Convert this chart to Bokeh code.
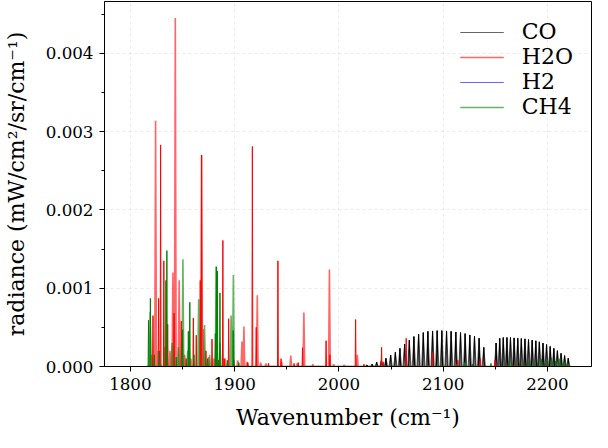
from bokeh.plotting import figure
from bokeh.models import Range1d, NumeralTickFormatter, FixedTicker, Legend, LegendItem
from bokeh.embed import file_html
from bokeh.resources import INLINE

# ---------------- data ----------------
# CO fundamental band (line positions in cm^-1, radiance in mW/cm2/sr/cm-1)
co_wn = [2026.8, 2031.8,
         2036.2, 2040.7, 2045.1, 2049.6, 2054.1, 2058.5, 2063.0, 2067.5, 2071.9, 2076.4,
         2080.9, 2085.3, 2089.8, 2094.2, 2098.7, 2103.2, 2107.6, 2112.1, 2116.6, 2121.0,
         2125.5, 2130.0, 2134.4, 2138.9,
         2150.7, 2154.2, 2157.6, 2161.1, 2164.5, 2168.0, 2171.5, 2174.9, 2178.4, 2181.8,
         2185.3, 2188.8, 2192.2, 2195.7, 2199.1, 2202.6, 2206.1, 2209.5, 2213.0, 2216.4,
         2219.9]
co_rad = [0.00002, 0.00003,
          0.000055, 0.000076, 0.000105, 0.000147, 0.000181, 0.000231, 0.000286, 0.000336,
          0.000382, 0.000412, 0.000433, 0.000449, 0.000454, 0.000458, 0.000458, 0.000454,
          0.000449, 0.000441, 0.000433, 0.000420, 0.000403, 0.000386, 0.000361, 0.000244,
          0.000300, 0.000361, 0.000370, 0.000370, 0.000370, 0.000365, 0.000361, 0.000357,
          0.000353, 0.000344, 0.000336, 0.000328, 0.000315, 0.000298, 0.000281, 0.000256,
          0.000231, 0.000202, 0.000168, 0.000139, 0.000105]

# H2O, broad (faded) spectrum
h2o_wn_a = [1820.5, 1824.2, 1826.0, 1833.0, 1838.0, 1840.8, 1843.1, 1846.8, 1852.0, 1858.0,
            1868.3, 1869.8, 1875.0, 1880.0, 1882.0, 1891.0, 1903.0, 1907.0, 1908.9, 1912.0,
            1921.7, 1925.0, 1930.0, 1945.0, 1953.8, 1960.0, 1966.4, 1975.0, 1990.9, 1995.0,
            2005.0, 2017.6]
h2o_rad_a = [0.00015, 0.00314, 0.0002, 0.00025, 0.0002, 0.0012, 0.00445, 0.0011, 0.00015, 0.0001,
             0.0027, 0.00048, 0.00012, 0.0001, 0.0001, 0.0001, 0.00008, 0.00032, 0.00051, 0.00006,
             0.00091, 0.00005, 0.00004, 0.00006, 0.00014, 0.00004, 0.00069, 0.00003, 0.00124, 0.00003,
             0.00002, 0.00015]
# H2O, sharp (solid) spectrum
h2o_wn_b = [1821.7, 1827.1, 1829.0, 1832.1, 1835.8, 1841.9, 1848.8, 1853.5, 1860.4, 1863.2,
            1867.0, 1868.3, 1872.5, 1878.3, 1884.5, 1888.7, 1890.0, 1894.3, 1899.3, 1912.6,
            1917.0, 1920.7, 1932.5, 1941.5, 1944.5, 1957.0, 1961.0, 1965.1, 1987.7, 1991.3,
            2016.0, 2024.0, 2040.9, 2042.5, 2064.5, 2089.6, 2114.0, 2135.6, 2149.7, 2171.0,
            2200.0]
h2o_rad_b = [0.00065, 0.00087, 0.00283, 0.00135, 0.00054, 0.00068, 0.00058, 0.0001, 0.00062, 0.0004,
             0.0011, 0.0027, 0.0002, 0.00035, 0.00008, 0.00161, 0.0001, 0.00061, 0.00008, 0.00005,
             0.00281, 0.0005, 0.00004, 0.00135, 0.0001, 0.00004, 0.00005, 0.00024, 0.00033, 0.00015,
             0.0006, 0.00003, 0.000245, 0.00006, 0.00036, 0.00018, 0.00008, 0.0001, 0.00008, 0.00004,
             0.00003]

# H2 (very weak)
h2_wn = [1830.0, 1900.0, 1980.0, 2050.0, 2120.0, 2200.0]
h2_rad = [0.00001, 0.00001, 0.000008, 0.00001, 0.00001, 0.000008]

# CH4, broad (faded) spectrum
ch4_wn_a = [1819.0, 1840.0, 1846.0, 1850.4, 1855.0, 1865.5, 1871.1, 1876.0, 1882.3, 1886.0,
            1896.6, 1898.8]
ch4_rad_a = [0.0007, 0.0003, 0.00025, 0.00137, 0.0002, 0.00086, 0.00053, 0.00015, 0.00128, 0.0003,
             0.00065, 0.00117]
# CH4, sharp (solid) spectrum
ch4_wn_b = [1817.4, 1819.2, 1823.0, 1828.0, 1834.1, 1835.0, 1844.0, 1850.1, 1855.6, 1857.0,
            1861.0, 1874.0, 1881.5, 1882.5, 1883.4, 1885.9, 1893.0, 1898.6, 1904.0,
            2098.0, 2112.7, 2120.6, 2128.0, 2145.8, 2163.0, 2169.9, 2176.0, 2181.8, 2188.0,
            2194.4, 2199.0, 2203.8, 2208.0, 2212.0, 2216.0, 2219.0]
ch4_rad_b = [0.00059, 0.00087, 0.00015, 0.0002, 0.0011, 0.00148, 0.00012, 0.00047, 0.00045, 0.00082,
             0.00015, 0.0001, 0.00042, 0.00127, 0.00122, 0.00094, 0.00008, 0.00046, 0.00005,
             0.00003, 0.00003, 0.00005, 0.00003, 0.00004, 0.00005, 0.00006, 0.00004, 0.00006, 0.00005,
             0.00009, 0.00006, 0.00011, 0.00007, 0.0001, 0.00005, 0.00004]

x_ticks = [1800, 1900, 2000, 2100, 2200]
y_ticks = [0.0, 0.001, 0.002, 0.003, 0.004]
WN_START, WN_END = 1816.0, 2222.0


def spectrum(wn, rad, hw):
    """Build a stick spectrum polyline (narrow triangular line shapes) from line lists."""
    pairs = sorted(zip(wn, rad))
    xs, ys = [WN_START], [0.0]
    for w, r in pairs:
        xs += [w - hw, w, w + hw]
        ys += [0.0, r, 0.0]
    xs.append(WN_END)
    ys.append(0.0)
    return xs, ys


FONT = "DejaVu Serif"

p = figure(width=592, height=432, output_backend="svg", toolbar_location=None,
           x_range=Range1d(1775.2, 2242.2), y_range=Range1d(0.0, 0.004662),
           min_border_left=96, min_border_right=1, min_border_top=1, min_border_bottom=62)

p.outline_line_color = "black"
p.outline_line_width = 1
p.background_fill_color = "white"
p.border_fill_color = "white"

# grid
for g in (p.xgrid, p.ygrid):
    g.grid_line_color = "#b0b0b0"
    g.grid_line_alpha = 0.25
    g.grid_line_dash = "3 3"
    g.grid_line_width = 1

# axes
p.xaxis.ticker = FixedTicker(ticks=x_ticks, minor_ticks=[1750, 1850, 1950, 2050, 2150, 2250])
p.yaxis.ticker = FixedTicker(ticks=y_ticks, minor_ticks=[0.0005, 0.0015, 0.0025, 0.0035, 0.0045])
p.yaxis.formatter = NumeralTickFormatter(format="0.000")
for ax in (p.xaxis[0], p.yaxis[0]):
    ax.major_tick_out = 5
    ax.major_tick_in = 0
    ax.minor_tick_out = 3
    ax.minor_tick_in = 0
    ax.major_tick_line_color = "black"
    ax.minor_tick_line_color = "black"
    ax.axis_line_color = "black"
    ax.major_label_text_font = FONT
    ax.major_label_text_font_size = "16.7px"
    ax.major_label_text_color = "black"
    ax.major_label_standoff = 6
    ax.axis_label_text_font = FONT
    ax.axis_label_text_font_size = "22px"
    ax.axis_label_text_font_style = "normal"
    ax.axis_label_text_color = "black"
p.xaxis.axis_label = "Wavenumber (cm⁻¹)"
p.yaxis.axis_label = "radiance (mW/cm²/sr/cm⁻¹)"
p.xaxis.axis_label_standoff = 12
p.yaxis.axis_label_standoff = 14

# spectra
x, y = spectrum(co_wn, co_rad, 1.6)
r_co = p.line(x, y, color="black", alpha=0.6, line_width=1)
x, y = spectrum(co_wn, co_rad, 0.7)
p.line(x, y, color="black", alpha=1.0, line_width=1)

x, y = spectrum(h2o_wn_a, h2o_rad_a, 0.8)
r_h2o = p.line(x, y, color="red", alpha=0.6, line_width=1.6)
x, y = spectrum(h2o_wn_b, h2o_rad_b, 0.4)
p.line(x, y, color="red", alpha=1.0, line_width=1)

x, y = spectrum(h2_wn, h2_rad, 0.6)
r_h2 = p.line(x, y, color="blue", alpha=0.6, line_width=1)

x, y = spectrum(ch4_wn_a, ch4_rad_a, 0.8)
r_ch4 = p.line(x, y, color="green", alpha=0.6, line_width=1.6)
x, y = spectrum(ch4_wn_b, ch4_rad_b, 0.4)
p.line(x, y, color="green", alpha=1.0, line_width=1)

legend = Legend(items=[LegendItem(label="CO", renderers=[r_co]),
                       LegendItem(label="H2O", renderers=[r_h2o]),
                       LegendItem(label="H2", renderers=[r_h2]),
                       LegendItem(label="CH4", renderers=[r_ch4])],
                location="top_right")
legend.background_fill_alpha = 0
legend.border_line_alpha = 0
legend.label_text_font = FONT
legend.label_text_font_size = "22px"
legend.label_text_color = "black"
legend.glyph_width = 44
legend.glyph_height = 24
legend.label_height = 24
legend.label_standoff = 18
legend.spacing = 0
legend.padding = 10
legend.margin = 8
p.add_layout(legend)

open("out.html", "w").write(file_html(p, INLINE))
